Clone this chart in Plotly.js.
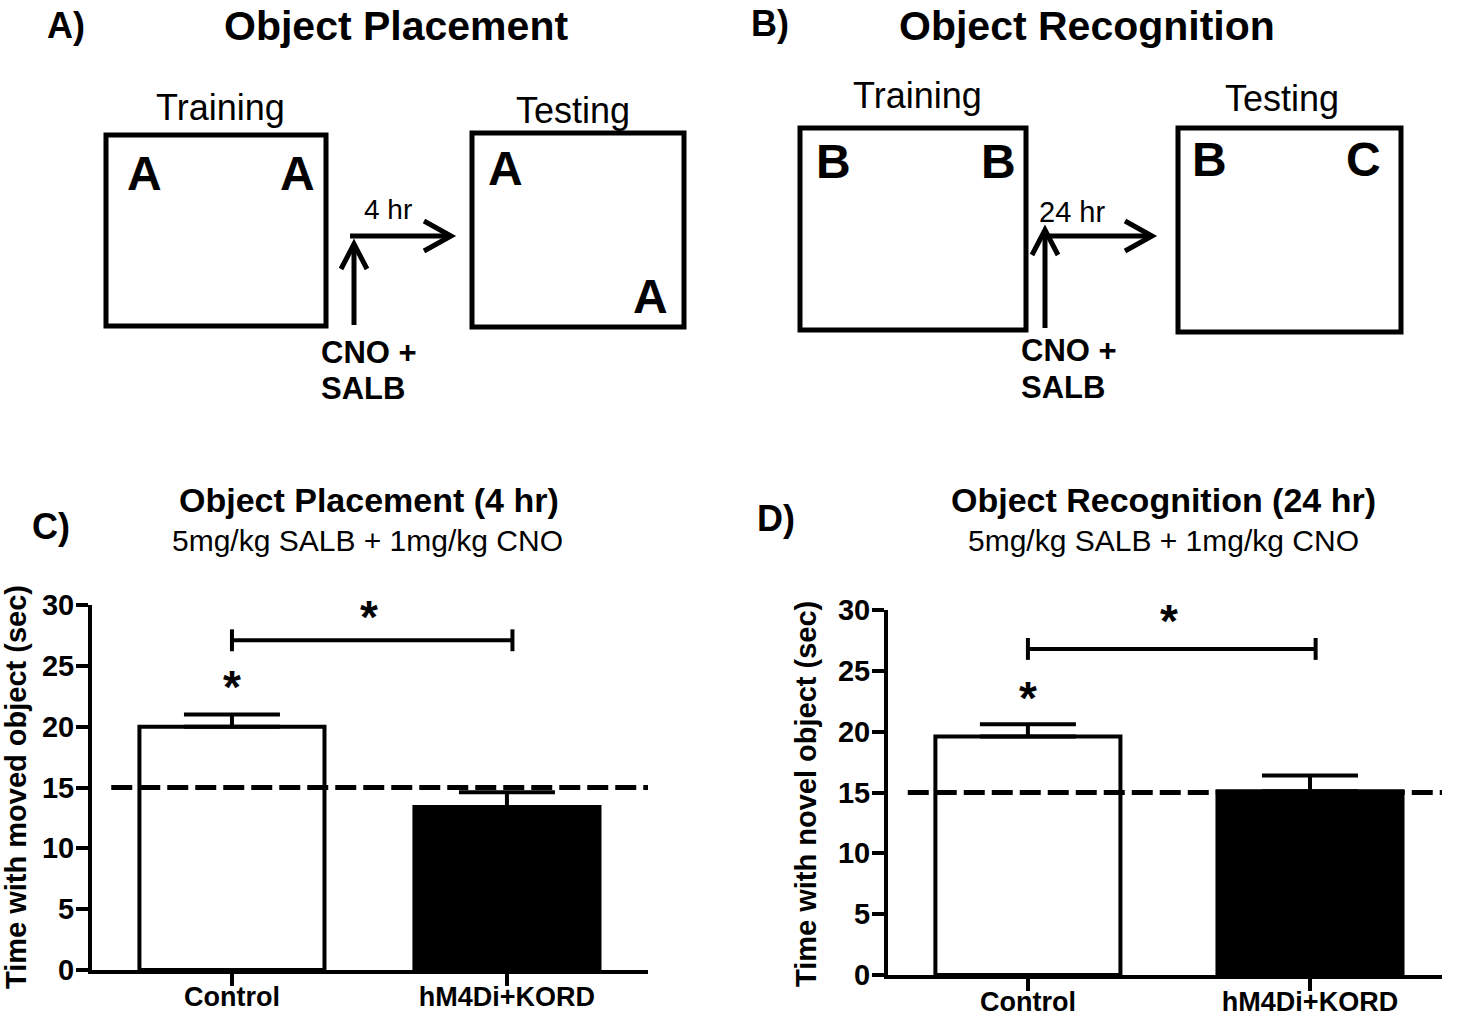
<!DOCTYPE html>
<html><head><meta charset="utf-8">
<script src="https://cdn.plot.ly/plotly-3.0.1.min.js"></script>
<style>html,body{margin:0;padding:0;background:#fff}</style>
</head><body><div id="chart" style="width:1461px;height:1016px"></div>
<script>
// ---- data ----
const categories = ['Control', 'hM4Di+KORD'];
const placementMeans = [20.0, 13.4];
const placementSEM = [1.0, 1.2];
const recognitionMeans = [19.6, 15.1];
const recognitionSEM = [1.0, 1.3];
const chanceLevel = 15;
const yTicks = [0, 5, 10, 15, 20, 25, 30];
const sigBracketY = [27.1, 26.8];   // C, D
const sigStarY = [29.0, 29.1];      // star above bracket
const barStarY = [23.3, 22.8];      // star above Control bar

// ---- layout helpers ----
const W = 1461, H = 1016;
const X = p => p / W;
const Y = p => 1 - p / H;
const FONT = 'Liberation Sans, Arial, sans-serif';

const shapes = [];
const annotations = [];
function rect(x0, y0, x1, y1) {
  shapes.push({type: 'rect', xref: 'paper', yref: 'paper', x0: X(x0), y0: Y(y0), x1: X(x1), y1: Y(y1),
    line: {color: 'black', width: 5}, fillcolor: 'rgba(0,0,0,0)'});
}
function pline(x0, y0, x1, y1, w) {
  shapes.push({type: 'line', xref: 'paper', yref: 'paper', x0: X(x0), y0: Y(y0), x1: X(x1), y1: Y(y1),
    line: {color: 'black', width: w || 5}});
}
function head(pts) {
  const d = 'M ' + pts.map(p => X(p[0]) + ',' + Y(p[1])).join(' L ');
  shapes.push({type: 'path', xref: 'paper', yref: 'paper', path: d, line: {color: 'black', width: 5}});
}
function txt(s, x, y, size, bold, xanchor, angle) {
  annotations.push({text: s, xref: 'paper', yref: 'paper', x: X(x), y: Y(y), showarrow: false,
    xanchor: xanchor || 'center', yanchor: 'middle', textangle: angle || 0,
    font: {family: FONT, size: size, color: 'black', weight: bold ? 'bold' : 'normal'}});
}

// ---- Panel A diagram ----
txt('A)', 66, 26, 36, true);
txt('Object Placement', 396, 26, 41, true);
txt('Training', 220, 107, 36, false);
txt('Testing', 573, 110, 36, false);
rect(106, 135, 326, 326);
rect(472, 133, 684, 327);
txt('A', 144, 173, 48, true);
txt('A', 297, 173, 48, true);
txt('A', 505, 168, 48, true);
txt('A', 650, 297, 48, true);
pline(350, 236, 451, 236);
head([[424, 221], [451, 236], [424, 251]]);
txt('4 hr', 388, 210, 28, false);
pline(354, 325, 354, 244);
head([[341, 269], [354, 244], [367, 269]]);
txt('CNO +', 319, 352, 31, true, 'left');
txt('SALB', 319, 388, 31, true, 'left');

// ---- Panel B diagram ----
txt('B)', 770, 24, 36, true);
txt('Object Recognition', 1087, 26, 41, true);
txt('Training', 917, 95, 36, false);
txt('Testing', 1282, 98, 36, false);
rect(800, 128, 1026, 330);
rect(1178, 128, 1401, 332);
txt('B', 833, 162, 48, true);
txt('B', 998, 162, 48, true);
txt('B', 1209, 160, 48, true);
txt('C', 1363, 160, 48, true);
pline(1047, 236, 1152, 236);
head([[1125, 221], [1152, 236], [1125, 251]]);
txt('24 hr', 1072, 212, 29, false);
pline(1045, 328, 1045, 230);
head([[1032, 255], [1045, 230], [1058, 255]]);
txt('CNO +', 1019, 350, 31, true, 'left');
txt('SALB', 1019, 387, 31, true, 'left');

// ---- Panel C / D titles ----
txt('C)', 51, 526, 36, true);
txt('Object Placement (4 hr)', 369, 500, 34, true);
txt('5mg/kg SALB + 1mg/kg CNO', 367, 540, 30, false);
txt('D)', 776, 518, 36, true);
txt('Object Recognition (24 hr)', 1163, 500, 34, true);
txt('5mg/kg SALB + 1mg/kg CNO', 1163, 540, 30, false);
txt('Time with moved object (sec)', 16, 787, 29, true, 'center', -90);
txt('Time with novel object (sec)', 806, 794, 29, true, 'center', -90);

// ---- chance lines, brackets, stars (data coords) ----
const panels = [
  {xr: 'x', yr: 'y', range: [-0.509, 1.513]},
  {xr: 'x2', yr: 'y2', range: [-0.496, 1.468]}
];
panels.forEach((p, i) => {
  shapes.push({type: 'line', xref: p.xr, yref: p.yr, x0: p.range[0] + 0.07, x1: p.range[1], y0: chanceLevel, y1: chanceLevel,
    layer: 'above', line: {color: 'black', width: 5, dash: '21px,7px'}});
  const by = sigBracketY[i];
  shapes.push({type: 'line', xref: p.xr, yref: p.yr, x0: 0, x1: 1.02, y0: by, y1: by, line: {color: 'black', width: 4}});
  shapes.push({type: 'line', xref: p.xr, yref: p.yr, x0: 0, x1: 0, y0: by - 0.9, y1: by + 0.9, line: {color: 'black', width: 4}});
  shapes.push({type: 'line', xref: p.xr, yref: p.yr, x0: 1.02, x1: 1.02, y0: by - 0.9, y1: by + 0.9, line: {color: 'black', width: 4}});
  annotations.push({text: '*', xref: p.xr, yref: p.yr, x: 0.5, y: sigStarY[i], showarrow: false, yanchor: 'middle',
    font: {family: FONT, size: 46, weight: 'bold', color: 'black'}});
  annotations.push({text: '*', xref: p.xr, yref: p.yr, x: 0, y: barStarY[i], showarrow: false, yanchor: 'middle',
    font: {family: FONT, size: 46, weight: 'bold', color: 'black'}});
});

function barTrace(means, sem, xa, ya, width) {
  return {
    type: 'bar', x: categories, y: means, xaxis: xa, yaxis: ya, width: width,
    marker: {color: ['white', 'black'], line: {color: 'black', width: 4}},
    error_y: {type: 'data', symmetric: false, array: sem, arrayminus: sem.map(() => 0),
      color: 'black', thickness: 4, width: 48},
    hoverinfo: 'none', showlegend: false
  };
}

const data = [
  barTrace(placementMeans, placementSEM, 'x', 'y', 0.673),
  barTrace(recognitionMeans, recognitionSEM, 'x2', 'y2', 0.656)
];

function xAxis(domain, range, anchor) {
  return {domain: domain, range: range, anchor: anchor, type: 'category', categoryarray: categories,
    showline: true, linewidth: 4, linecolor: 'black', ticks: 'outside', ticklen: 12, tickwidth: 4, tickcolor: 'black',
    showgrid: false, zeroline: false, fixedrange: true, automargin: false, ticklabelstandoff: -12,
    tickfont: {family: FONT, size: 27, weight: 'bold', color: 'black'}};
}
function yAxis(domain, anchor) {
  return {domain: domain, range: [0, 30], anchor: anchor, tickmode: 'array', tickvals: yTicks,
    showline: true, linewidth: 4, linecolor: 'black', ticks: 'outside', ticklen: 12, tickwidth: 4, tickcolor: 'black',
    showgrid: false, zeroline: false, fixedrange: true, automargin: false, ticklabelstandoff: -4,
    tickfont: {family: FONT, size: 29, weight: 'bold', color: 'black'}};
}

const layout = {
  width: W, height: H, margin: {l: 0, r: 0, t: 0, b: 0},
  paper_bgcolor: 'white', plot_bgcolor: 'white', showlegend: false,
  xaxis: xAxis([X(92), X(648)], [-0.509, 1.513], 'y'),
  yaxis: yAxis([Y(970), Y(605)], 'x'),
  xaxis2: xAxis([X(888), X(1442)], [-0.496, 1.468], 'y2'),
  yaxis2: yAxis([Y(975), Y(610)], 'x2'),
  shapes: shapes, annotations: annotations
};

Plotly.newPlot('chart', data, layout, {displayModeBar: false, staticPlot: true});
</script></body></html>
